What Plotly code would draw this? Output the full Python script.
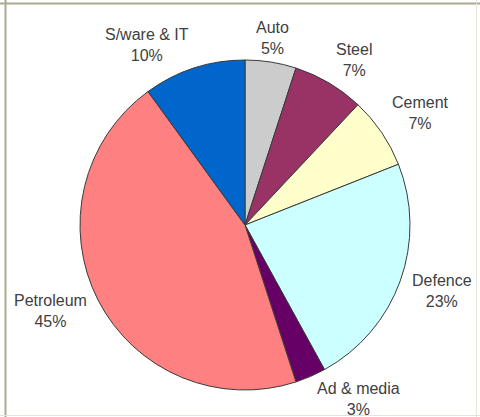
import math
import plotly.graph_objects as go

labels = ["Auto", "Steel", "Cement", "Defence", "Ad & media", "Petroleum", "S/ware & IT"]
values = [5, 7, 7, 23, 3, 45, 10]
colors = ["#CCCCCC", "#993366", "#FFFFCC", "#CCFFFF", "#660066", "#FF8080", "#0066CC"]

W, H = 480, 417
cx, cy, r = 245, 225, 165  # pixel centre (from top) and radius
cy_b = H - cy
FS = 16
box_h = 2 * FS * 1.3

fig = go.Figure(go.Pie(
    labels=labels, values=values, sort=False, direction="clockwise", rotation=0,
    marker=dict(colors=colors, line=dict(color="#3a3a3a", width=1)),
    textinfo="none", hoverinfo="label+percent", showlegend=False,
    domain=dict(x=[(cx - r) / W, (cx + r) / W], y=[(cy_b - r) / H, (cy_b + r) / H]),
))

total = sum(values)
cum = 0
annotations = []
for lab, v in zip(labels, values):
    mid = (cum + v / 2) / total * 2 * math.pi
    cum += v
    s, c = math.sin(mid), math.cos(mid)
    R = r + 10
    x = cx + R * s
    y_top = cy - R * c + 7  # pixel y from top
    xa = "left" if s > 0.2 else ("right" if s < -0.2 else "center")
    ya = "bottom" if c > 0.5 else ("top" if c < -0.5 else "middle")
    if ya == "top":
        y_top = min(y_top, H + 3 - box_h)
    annotations.append(dict(
        x=x / W, y=(H - y_top) / H, xref="paper", yref="paper", showarrow=False,
        text=f"{lab}<br>{round(v / total * 100)}%", align="center",
        xanchor=xa, yanchor=ya,
        font=dict(family="Liberation Sans, Arial", size=FS, color="#404040"),
    ))

shapes = [
    dict(type="line", xref="paper", yref="paper", x0=0, x1=1, y0=1 - 3.5 / H, y1=1 - 3.5 / H,
         line=dict(color="#A9A994", width=2)),
    dict(type="line", xref="paper", yref="paper", x0=5.5 / W, x1=5.5 / W, y0=0, y1=1,
         line=dict(color="#A9A994", width=2)),
    dict(type="line", xref="paper", yref="paper", x0=476.5 / W, x1=476.5 / W, y0=0, y1=1,
         line=dict(color="#E4E4DA", width=1)),
    dict(type="line", xref="paper", yref="paper", x0=0, x1=1, y0=1.5 / H, y1=1.5 / H,
         line=dict(color="#E4E4DA", width=1)),
]

fig.update_layout(
    width=W, height=H, margin=dict(l=0, r=0, t=0, b=0),
    paper_bgcolor="white", plot_bgcolor="white",
    annotations=annotations, shapes=shapes,
)
fig.write_html("out.html", config={"displayModeBar": False},
               post_script="document.body.style.margin='0';")
